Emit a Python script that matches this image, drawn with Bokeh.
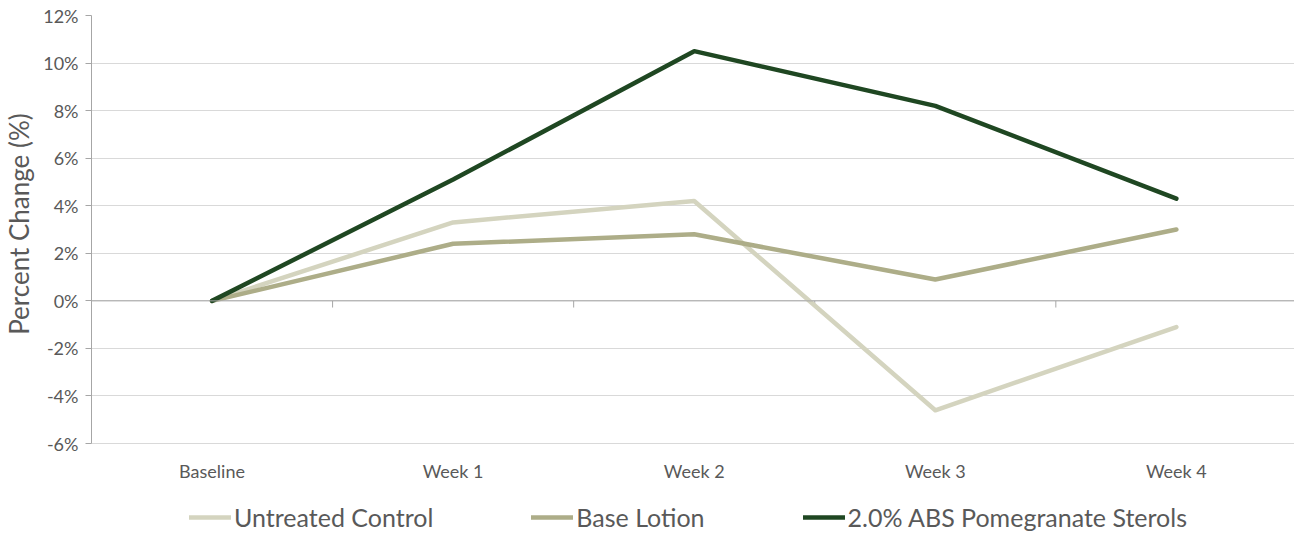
from bokeh.plotting import figure
from bokeh.models import (Range1d, FixedTicker, PrintfTickFormatter,
                          Legend, LegendItem, Span)
from bokeh.core.properties import value
from bokeh.embed import file_html
from bokeh.resources import INLINE

categories = ["Baseline", "Week 1", "Week 2", "Week 3", "Week 4"]
untreated = [0.0, 3.3, 4.2, -4.6, -1.1]
base_lotion = [0.0, 2.4, 2.8, 0.9, 3.0]
pomegranate = [0.0, 5.1, 10.5, 8.2, 4.3]
series_names = ["Untreated Control", "Base Lotion", "2.0% ABS Pomegranate Sterols"]
series_colors = ["#d4d4bf", "#adad88", "#1f4722"]
y_ticks = [-6, -4, -2, 0, 2, 4, 6, 8, 10, 12]
y_title = "Percent Change (%)"

xs = list(range(len(categories)))
FONT = "Lato"
GREY = "#595959"
AXIS_GREY = "#a6a6a6"

# frame spans 15..532 px; data area (-6..12) occupies 15..443 px
Y_MIN_VIEW = -9.74
p = figure(width=1294, height=532, output_backend="svg", toolbar_location=None,
           x_range=Range1d(-0.5, 4.49), y_range=Range1d(Y_MIN_VIEW, 12),
           min_border_left=81, min_border_right=0, min_border_top=15, min_border_bottom=0)
p.outline_line_color = None

p.xgrid.grid_line_color = None
p.ygrid.grid_line_color = "#d9d9d9"
p.ygrid.ticker = FixedTicker(ticks=y_ticks)

p.yaxis.ticker = FixedTicker(ticks=y_ticks)
p.yaxis.bounds = (min(y_ticks), max(y_ticks))
p.yaxis.formatter = PrintfTickFormatter(format="%d%%")
p.yaxis.axis_line_color = AXIS_GREY
p.yaxis.major_tick_line_color = AXIS_GREY
p.yaxis.major_tick_out = 6
p.yaxis.major_tick_in = 0
p.yaxis.minor_tick_line_color = None
p.yaxis.major_label_text_font = FONT
p.yaxis.major_label_text_font_size = "18px"
p.yaxis.major_label_text_color = GREY
p.yaxis.major_label_standoff = 7
# leading non-breaking spaces lift the centred label onto the -6..12 data area
p.yaxis.axis_label = "\u00a0" * 15 + y_title
p.yaxis.axis_label_text_font = FONT
p.yaxis.axis_label_text_font_size = "26px"
p.yaxis.axis_label_text_font_style = "normal"
p.yaxis.axis_label_text_color = GREY
p.yaxis.axis_label_standoff = 5

p.xaxis.visible = False

# category labels under the plot area
label_y = min(y_ticks) - 1.135
p.text(x=xs, y=[label_y] * len(xs), text=categories, text_font=value(FONT),
       text_font_size="18px", text_color=GREY, text_align="center", text_baseline="middle")

# horizontal axis line at 0 with ticks between categories
p.add_layout(Span(location=0, dimension="width", line_color=AXIS_GREY, line_width=1))
bounds = [x + 0.5 for x in xs[:-1]]
p.segment(x0=bounds, y0=[0] * len(bounds), x1=bounds, y1=[-0.28] * len(bounds),
          line_color=AXIS_GREY, line_width=1)

renderers = []
for vals, col in zip([untreated, base_lotion, pomegranate], series_colors):
    r = p.line(xs, vals, line_color=col, line_width=4.5, line_join="round", line_cap="round")
    renderers.append(r)

legend = Legend(items=[LegendItem(label=n, renderers=[r]) for n, r in zip(series_names, renderers)],
                orientation="horizontal", location=(98, 0),
                label_text_font=FONT, label_text_font_size="25px", label_text_color=GREY,
                glyph_width=42, label_standoff=3, spacing=98,
                padding=0, margin=0, border_line_color=None, background_fill_alpha=0)
p.add_layout(legend)

open("out.html", "w").write(file_html(p, INLINE))
